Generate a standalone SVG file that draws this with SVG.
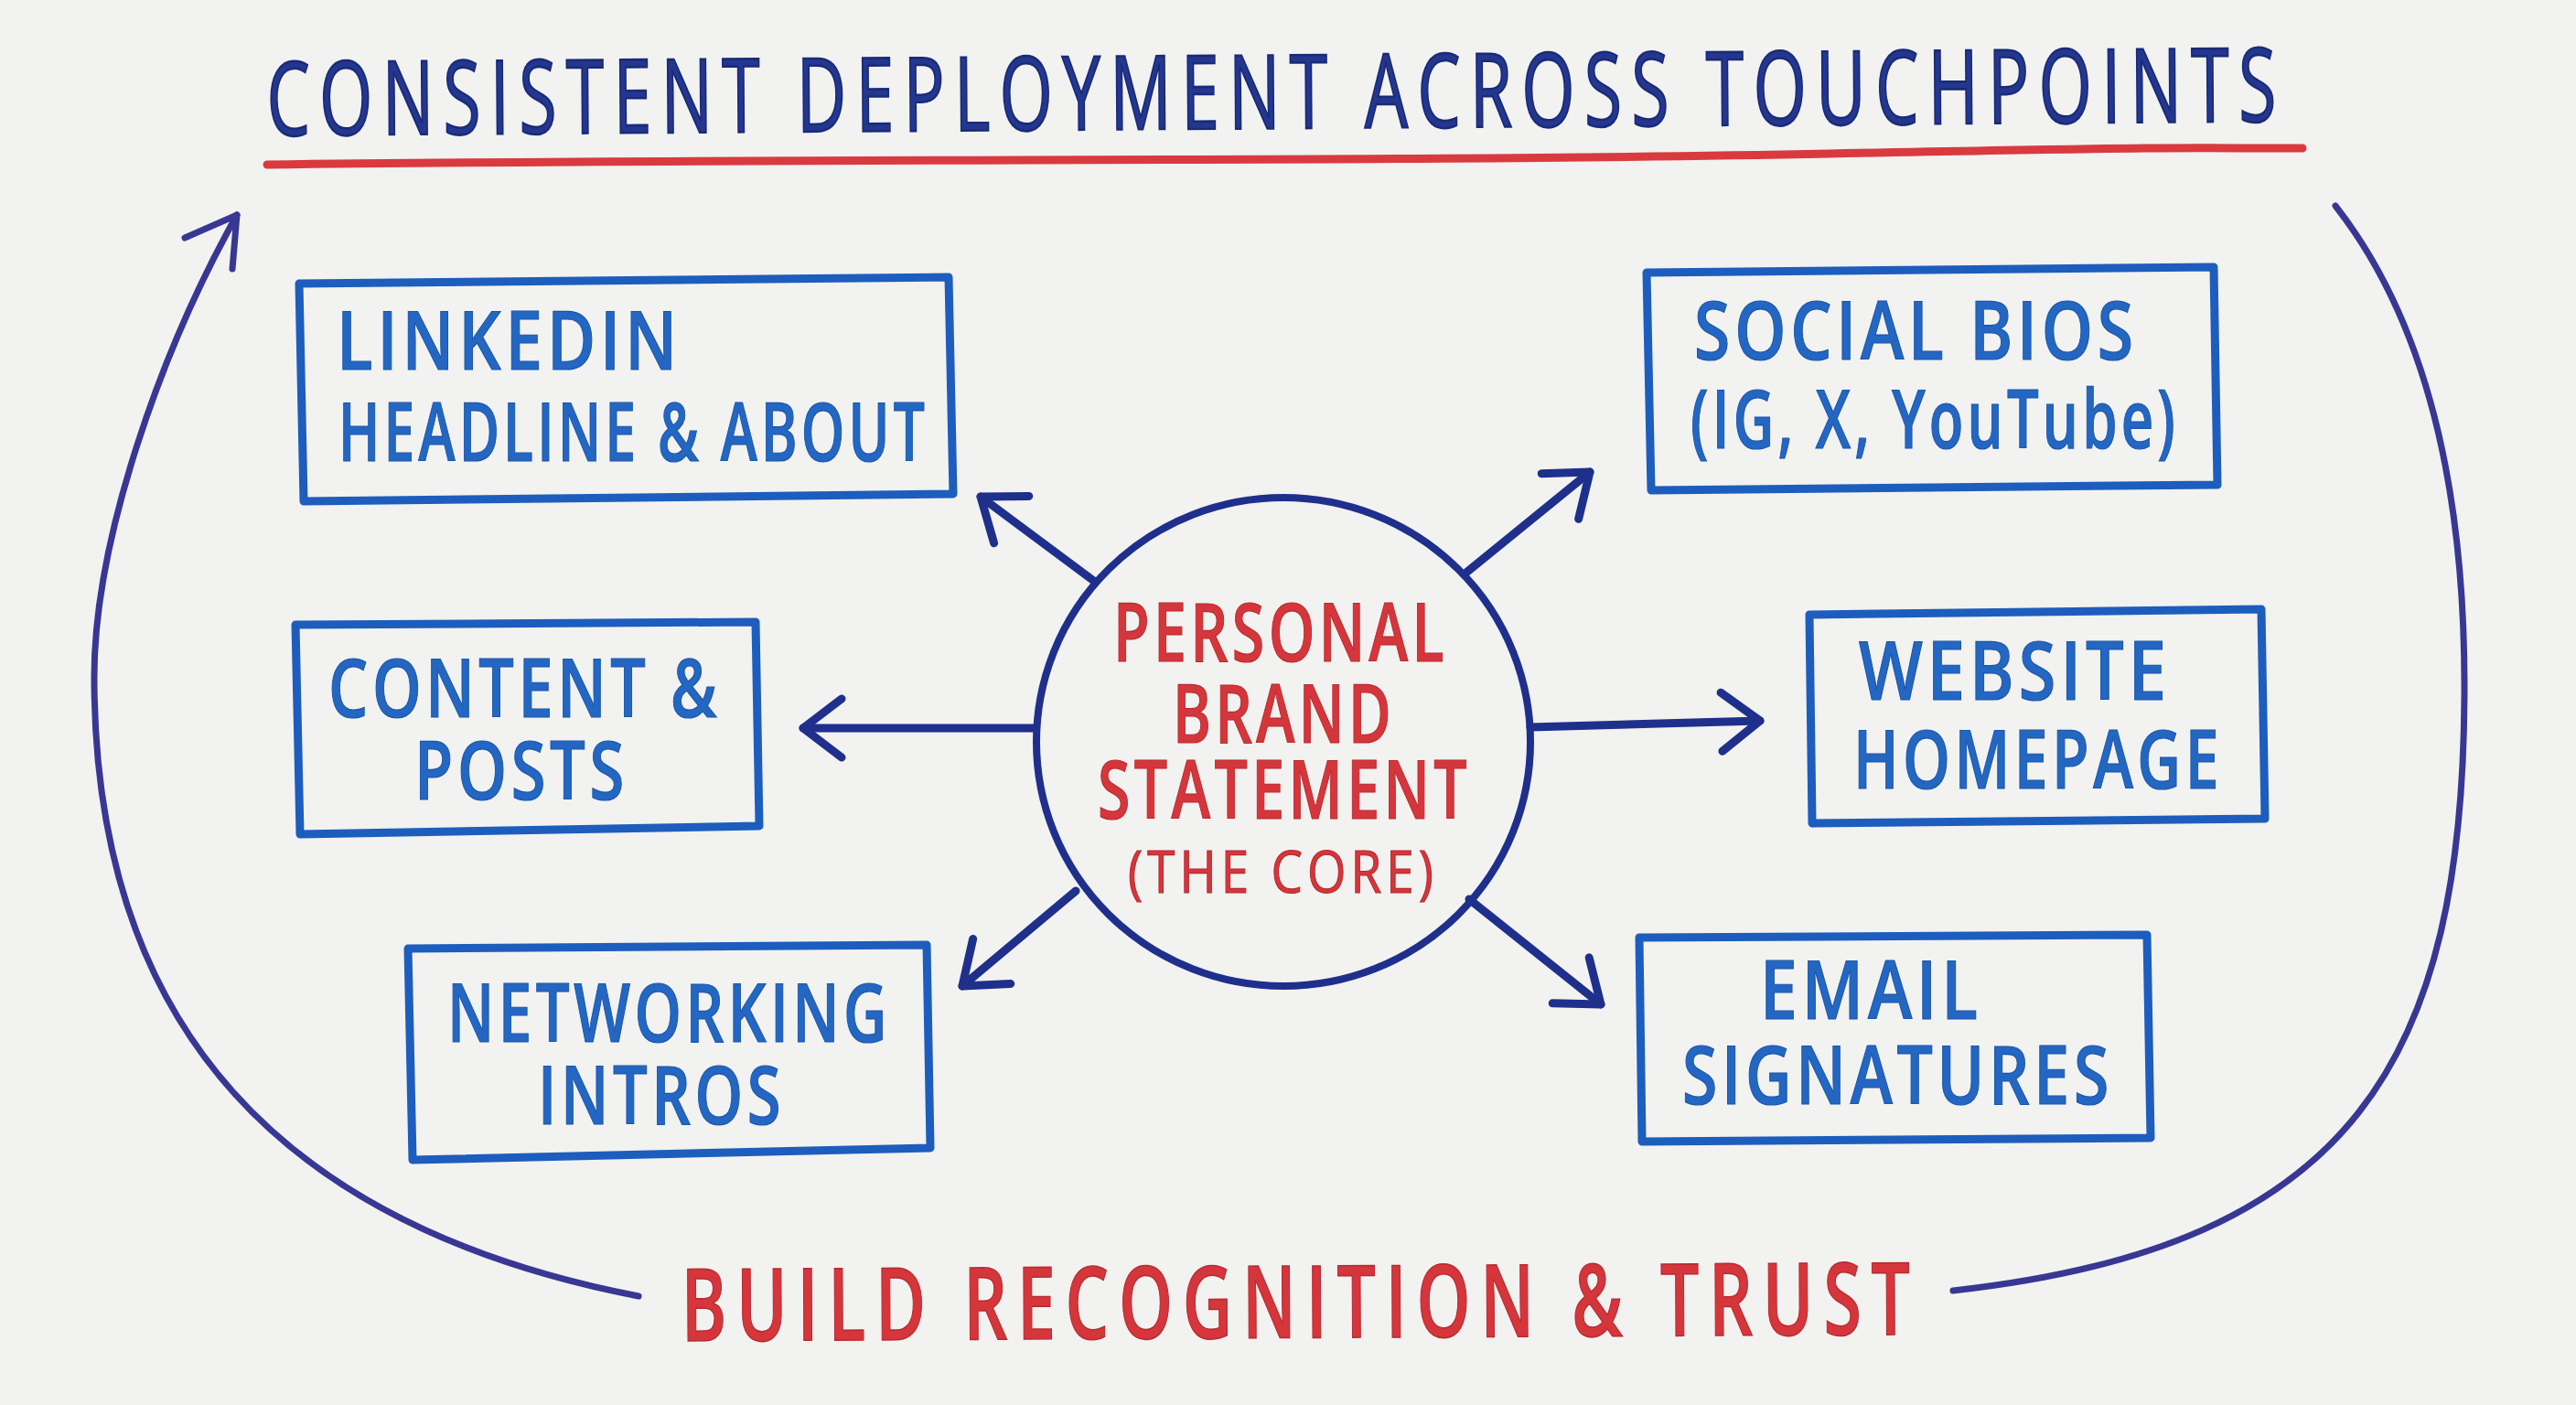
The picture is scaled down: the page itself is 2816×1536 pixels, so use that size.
<svg xmlns="http://www.w3.org/2000/svg" width="2816" height="1536" viewBox="0 0 2816 1536">
<defs>
<style>
.box{fill:none;stroke:#1d5dbd;stroke-width:9;stroke-linejoin:round;stroke-linecap:round}
.bt{font-family:"Open Sans","Liberation Sans",sans-serif;font-weight:600;font-size:88px;letter-spacing:6px;fill:#2367c2;stroke:#1b55ab;stroke-width:1.2}
.rt{font-family:"Open Sans","Liberation Sans",sans-serif;font-weight:600;font-size:88px;letter-spacing:6px;fill:#d5363c;stroke:#b82a30;stroke-width:1.2}
.tt{font-family:"Open Sans","Liberation Sans",sans-serif;font-weight:500;font-size:112px;letter-spacing:16px;fill:#24378f;stroke:#1a2a78;stroke-width:2.5}
.ot{font-family:"Open Sans","Liberation Sans",sans-serif;font-weight:600;font-size:110px;letter-spacing:16px;fill:#d5363c;stroke:#b82a30;stroke-width:1.5}
.arrow{fill:none;stroke:#1f2f8c;stroke-width:9;stroke-linecap:round}
.arc{fill:none;stroke:#383794;stroke-width:7;stroke-linecap:round;stroke-linejoin:round}
</style>
<marker id="ah" markerUnits="userSpaceOnUse" markerWidth="140" markerHeight="140" viewBox="-70 -70 140 140" refX="0" refY="0" orient="auto" overflow="visible">
<path d="M-42,-32 L0,0 L-42,32" fill="none" stroke="#1f2f8c" stroke-width="9" stroke-linecap="round" stroke-linejoin="round"/>
</marker>
</defs>
<rect x="0" y="0" width="2816" height="1536" fill="#f2f2f0"/>

<g id="title">
<text class="tt" x="292" y="148" textLength="2207" lengthAdjust="spacingAndGlyphs" transform="rotate(-0.4 292 148)">CONSISTENT DEPLOYMENT ACROSS TOUCHPOINTS</text>
<path d="M292,180 C900,172 1500,178 2000,168 S2400,163 2517,162" fill="none" stroke="#d93a40" stroke-width="9" stroke-linecap="round"/>
</g>

<g id="connectors">
<path class="arrow" d="M1197,636 L1072,543" marker-end="url(#ah)"/>
<path class="arrow" d="M1604,625 L1738,516" marker-end="url(#ah)"/>
<path class="arrow" d="M1130,796 L878,796" marker-end="url(#ah)"/>
<path class="arrow" d="M1673,795 L1924,788" marker-end="url(#ah)"/>
<path class="arrow" d="M1176,974 L1052,1078" marker-end="url(#ah)"/>
<path class="arrow" d="M1606,983 L1750,1098" marker-end="url(#ah)"/>
<path class="arc" d="M698,1417 C306,1341 103,1120 103,740 C103,590 176,383 259,235"/>
<path class="arc" d="M202,260 L259,235 L254,294" stroke-width="9"/>
<path class="arc" d="M2135,1411 C2572,1363 2694,1160 2694,750 C2694,550 2658,359 2553,225"/>
</g>

<g id="core">
<ellipse cx="1403" cy="811" rx="270" ry="267" fill="none" stroke="#1f2f8c" stroke-width="8"/>
<text class="rt" x="1217" y="723" textLength="366" lengthAdjust="spacingAndGlyphs">PERSONAL</text>
<text class="rt" x="1282" y="812" textLength="243" lengthAdjust="spacingAndGlyphs">BRAND</text>
<text class="rt" x="1200" y="895" textLength="408" lengthAdjust="spacingAndGlyphs">STATEMENT</text>
<text class="rt" x="1233" y="976" textLength="339" lengthAdjust="spacingAndGlyphs" style="font-size:64px;font-weight:500">(THE CORE)</text>
</g>

<g id="linkedin">
<path class="box" d="M327,310 L1037,303 L1042,540 L332,548 Z"/>
<text class="bt" x="368" y="404" textLength="377" lengthAdjust="spacingAndGlyphs">LINKEDIN</text>
<text class="bt" x="370" y="504" textLength="645" lengthAdjust="spacingAndGlyphs">HEADLINE &amp; ABOUT</text>
</g>

<g id="social">
<path class="box" d="M1800,298 L2420,292 L2424,530 L1805,536 Z"/>
<text class="bt" x="1852" y="393" textLength="485" lengthAdjust="spacingAndGlyphs">SOCIAL BIOS</text>
<text class="bt" x="1848" y="490" textLength="534" lengthAdjust="spacingAndGlyphs">(IG, X, YouTube)</text>
</g>

<g id="content">
<path class="box" d="M323,683 L826,680 L830,903 L328,912 Z"/>
<text class="bt" x="359" y="784" textLength="429" lengthAdjust="spacingAndGlyphs">CONTENT &amp;</text>
<text class="bt" x="453" y="874" textLength="234" lengthAdjust="spacingAndGlyphs">POSTS</text>
</g>

<g id="website">
<path class="box" d="M1978,672 L2472,666 L2476,895 L1981,900 Z"/>
<text class="bt" x="2032" y="765" textLength="341" lengthAdjust="spacingAndGlyphs">WEBSITE</text>
<text class="bt" x="2026" y="862" textLength="404" lengthAdjust="spacingAndGlyphs">HOMEPAGE</text>
</g>

<g id="networking">
<path class="box" d="M446,1037 L1013,1033 L1017,1255 L451,1268 Z"/>
<text class="bt" x="489" y="1139" textLength="485" lengthAdjust="spacingAndGlyphs">NETWORKING</text>
<text class="bt" x="588" y="1229" textLength="270" lengthAdjust="spacingAndGlyphs">INTROS</text>
</g>

<g id="email">
<path class="box" d="M1792,1025 L2347,1022 L2351,1244 L1795,1248 Z"/>
<text class="bt" x="1924" y="1114" textLength="243" lengthAdjust="spacingAndGlyphs">EMAIL</text>
<text class="bt" x="1839" y="1207" textLength="471" lengthAdjust="spacingAndGlyphs">SIGNATURES</text>
</g>

<g id="outcome">
<text class="ot" x="745" y="1466" textLength="1354" lengthAdjust="spacingAndGlyphs" transform="rotate(-0.3 745 1466)">BUILD RECOGNITION &amp; TRUST</text>
</g>
</svg>
